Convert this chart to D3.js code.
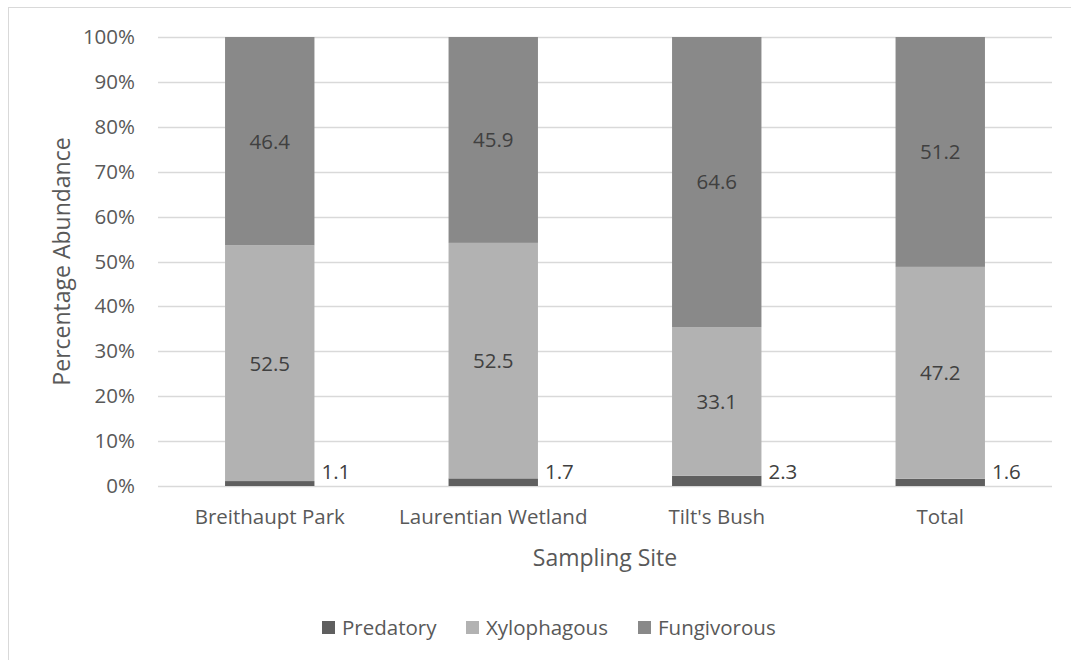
<!DOCTYPE html>
<html>
<head>
<meta charset="utf-8">
<script src="https://cdn.jsdelivr.net/npm/d3@7"></script>
<style>
  html, body { margin: 0; padding: 0; background: #fff; }
  svg { display: block; font-family: "Open Sans", sans-serif; }
</style>
</head>
<body>
<svg id="chart" width="1071" height="660"></svg>
<script>
// Feeding guild composition per sampling site (percent of individuals)
const sites = ["Breithaupt Park", "Laurentian Wetland", "Tilt's Bush", "Total"];
const guilds = ["Predatory", "Xylophagous", "Fungivorous"];
const predatory = [1.1, 1.7, 2.3, 1.6];
const xylophagous = [52.5, 52.5, 33.1, 47.2];
const fungivorous = [46.4, 45.9, 64.6, 51.2];
const yTicks = [0, 10, 20, 30, 40, 50, 60, 70, 80, 90, 100];

const colors = { Predatory: "#5f5f5f", Xylophagous: "#b2b2b2", Fungivorous: "#898989" };
const textColor = "#595959";
const font = "'Open Sans', sans-serif";
const labelSize = "20.5px";
const titleSize = "23px";

const rows = sites.map((s, i) => ({
  site: s,
  Predatory: predatory[i],
  Xylophagous: xylophagous[i],
  Fungivorous: fungivorous[i]
}));
// 100% stacked: normalise each site to its own total
const series = d3.stack().keys(guilds).offset(d3.stackOffsetExpand)(rows);

const svg = d3.select("#chart");
const plot = { left: 158, right: 1052, top: 37, bottom: 486 };

// chart frame
svg.append("rect")
  .attr("x", 8.5).attr("y", 7.5)
  .attr("width", 1100).attr("height", 700)
  .attr("fill", "none").attr("stroke", "#d9d9d9").attr("stroke-width", 1);

const x = d3.scaleBand().domain(sites).range([plot.left, plot.right]).paddingInner(0.6).paddingOuter(0.3);
const y = d3.scaleLinear().domain([0, 1]).range([plot.bottom, plot.top]);

// gridlines
svg.append("g").selectAll("line").data(yTicks).join("line")
  .attr("x1", plot.left).attr("x2", plot.right)
  .attr("y1", d => Math.round(y(d / 100)) + 0.5).attr("y2", d => Math.round(y(d / 100)) + 0.5)
  .attr("stroke", "#d9d9d9").attr("stroke-width", 1.3);

// y axis tick labels
const yAxis = d3.axisLeft(y).tickValues(yTicks.map(d => d / 100)).tickFormat(d3.format(".0%")).tickSize(0).tickPadding(0);
const yg = svg.append("g").attr("transform", "translate(135,0)").call(yAxis);
yg.select(".domain").remove();
yg.selectAll("text").attr("fill", textColor).style("font-size", labelSize).style("font-family", font);

// x axis category labels
const xAxis = d3.axisBottom(x).tickSize(0).tickPadding(0);
const xg = svg.append("g").attr("transform", `translate(0,${plot.bottom + 23})`).call(xAxis);
xg.select(".domain").remove();
xg.selectAll("text").attr("fill", textColor).style("font-size", labelSize).style("font-family", font);

// bars
const layer = svg.append("g").selectAll("g").data(series).join("g")
  .attr("fill", d => colors[d.key]);
layer.selectAll("rect").data(d => d).join("rect")
  .attr("x", d => x(d.data.site))
  .attr("width", x.bandwidth())
  .attr("y", d => y(d[1]))
  .attr("height", d => y(d[0]) - y(d[1]));

// value labels: centred in the larger guilds, beside the base for the thin predatory slice
series.forEach(s => {
  s.forEach(d => {
    const v = d.data[s.key];
    const t = svg.append("text")
      .attr("fill", "#404040")
      .style("font-size", labelSize)
      .text(v.toFixed(1));
    if (s.key === "Predatory") {
      t.attr("x", x(d.data.site) + x.bandwidth() + 7)
        .attr("y", y(0) - 7)
        .attr("text-anchor", "start");
    } else {
      t.attr("x", x(d.data.site) + x.bandwidth() / 2)
        .attr("y", (y(d[0]) + y(d[1])) / 2)
        .attr("dy", "0.36em")
        .attr("text-anchor", "middle");
    }
  });
});

// axis titles
svg.append("text")
  .attr("x", (plot.left + plot.right) / 2).attr("y", 566)
  .attr("text-anchor", "middle").attr("fill", textColor)
  .style("font-size", titleSize).text("Sampling Site");
svg.append("text")
  .attr("transform", `translate(70,${(plot.top + plot.bottom) / 2}) rotate(-90)`)
  .attr("text-anchor", "middle").attr("fill", textColor)
  .style("font-size", titleSize).text("Percentage Abundance");

// legend
const legendX = [322, 466, 638];
const legend = svg.append("g").selectAll("g").data(guilds).join("g")
  .attr("transform", (d, i) => `translate(${legendX[i]},621)`);
legend.append("rect").attr("width", 13).attr("height", 13).attr("fill", d => colors[d]);
legend.append("text").attr("x", 20).attr("y", 14)
  .attr("fill", textColor).style("font-size", labelSize).text(d => d);
</script>
</body>
</html>
